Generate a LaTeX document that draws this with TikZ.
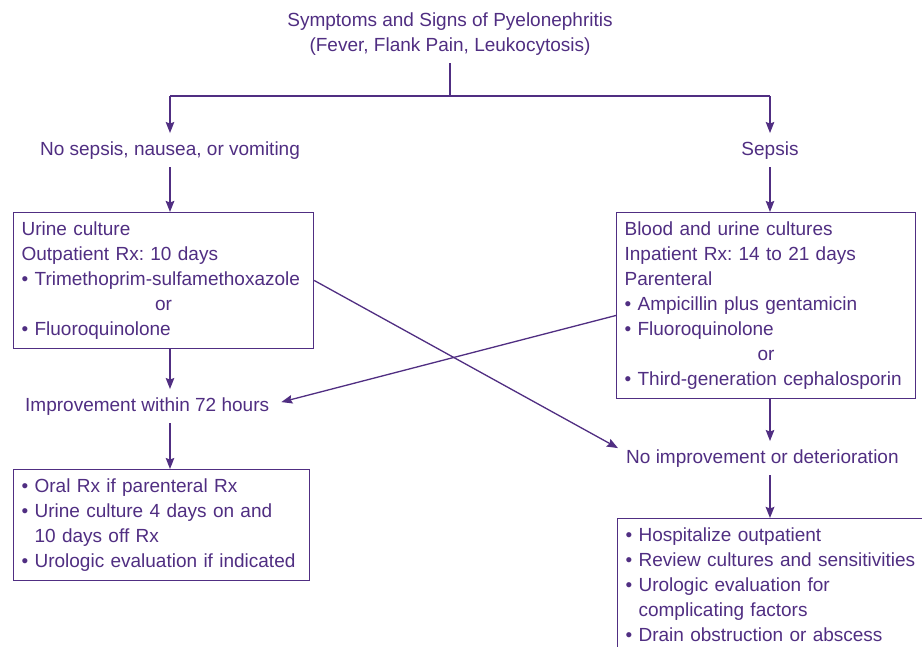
\documentclass[tikz,border=0pt]{standalone}
\usepackage{fontspec}
\setmainfont{Liberation Sans}
\usetikzlibrary{arrows.meta}
\definecolor{pur}{RGB}{80,46,130}
\frenchspacing
\tikzset{
  every node/.style={text=pur, font=\fontsize{19}{25}\selectfont},
  lbl/.style={inner xsep=8pt, inner ysep=8pt, anchor=base},
  box/.style={draw=pur, line width=1.2pt, anchor=north west, align=left, inner xsep=8pt, inner ysep=9pt},
  conn/.style={draw=pur, line width=1.3pt},
  arr/.style={conn, -{Stealth[length=11pt,width=8.5pt,inset=1.5pt]}},
  tarr/.style={arr, line width=2pt}
}
\begin{document}
\frenchspacing
\begin{tikzpicture}[x=1pt,y=-1pt]
\clip (0,0) rectangle (922,646);
\fill[white] (0,0) rectangle (922,646);
\coordinate (colL) at (170,0);
\coordinate (colR) at (770,0);
\node[align=center, inner sep=7pt, anchor=north] (title) at (450,6)
  {Symptoms and Signs of Pyelonephritis\\(Fever, Flank Pain, Leukocytosis)};
\coordinate (j) at (450,96);
\coordinate (jl) at (170,96);
\coordinate (jr) at (770,96);
\node[lbl] (nosep) at (170,155) {No sepsis, nausea, or vomiting};
\node[lbl] (sepsis) at (770,155) {Sepsis};
\node[box, text width=284pt] (box1) at (13,212)
  {Urine culture\\
   Outpatient Rx: 10 days\\
   • Trimethoprim-sulfamethoxazole\\
   \makebox[\linewidth]{or}\\
   • Fluoroquinolone};
\node[box, text width=283pt] (box2) at (616,212)
  {Blood and urine cultures\\
   Inpatient Rx: 14 to 21 days\\
   Parenteral\\
   • Ampicillin plus gentamicin\\
   • Fluoroquinolone\\
   \makebox[\linewidth]{or}\\
   • Third-generation cephalosporin};
\node[lbl, anchor=base west] (imp) at (17,411) {Improvement within 72 hours};
\node[lbl, anchor=base west] (noimp) at (618,463) {No improvement or deterioration};
\node[box, text width=280pt] (box3) at (13,469)
  {• Oral Rx if parenteral Rx\\
   • Urine culture 4 days on and\\
   \phantom{• }10 days off Rx\\
   • Urologic evaluation if indicated};
\node[box, text width=330pt] (box4) at (617,518)
  {• Hospitalize outpatient\\
   • Review cultures and sensitivities\\
   • Urologic evaluation for\\
   \phantom{• }complicating factors\\
   • Drain obstruction or abscess\\
   \strut};
% connectors
\draw[conn] (title.south) -- (j);
\draw[conn, line width=2pt] (jl) -- (jr);
\draw[arr] (jl) -- (nosep.north -| jl);
\draw[arr] (jr) -- (sepsis.north -| jr);
\draw[tarr] (colL |- nosep.south) -- (colL |- box1.north);
\draw[arr] (colR |- sepsis.south) -- (colR |- box2.north);
\draw[arr] (colL |- box1.south) -- (colL |- imp.north);
\draw[arr] (colL |- imp.south) -- (colL |- box3.north);
\draw[arr] (colR |- box2.south) -- (colR |- noimp.north);
\draw[tarr, line width=2.2pt] (colR |- noimp.south) -- (colR |- box4.north);
\draw[arr] (box1.east) -- ([yshift=10pt]noimp.west);
\draw[arr] ([yshift=-10pt]box2.west) -- ([yshift=4pt,xshift=4pt]imp.east);
\end{tikzpicture}
\end{document}
